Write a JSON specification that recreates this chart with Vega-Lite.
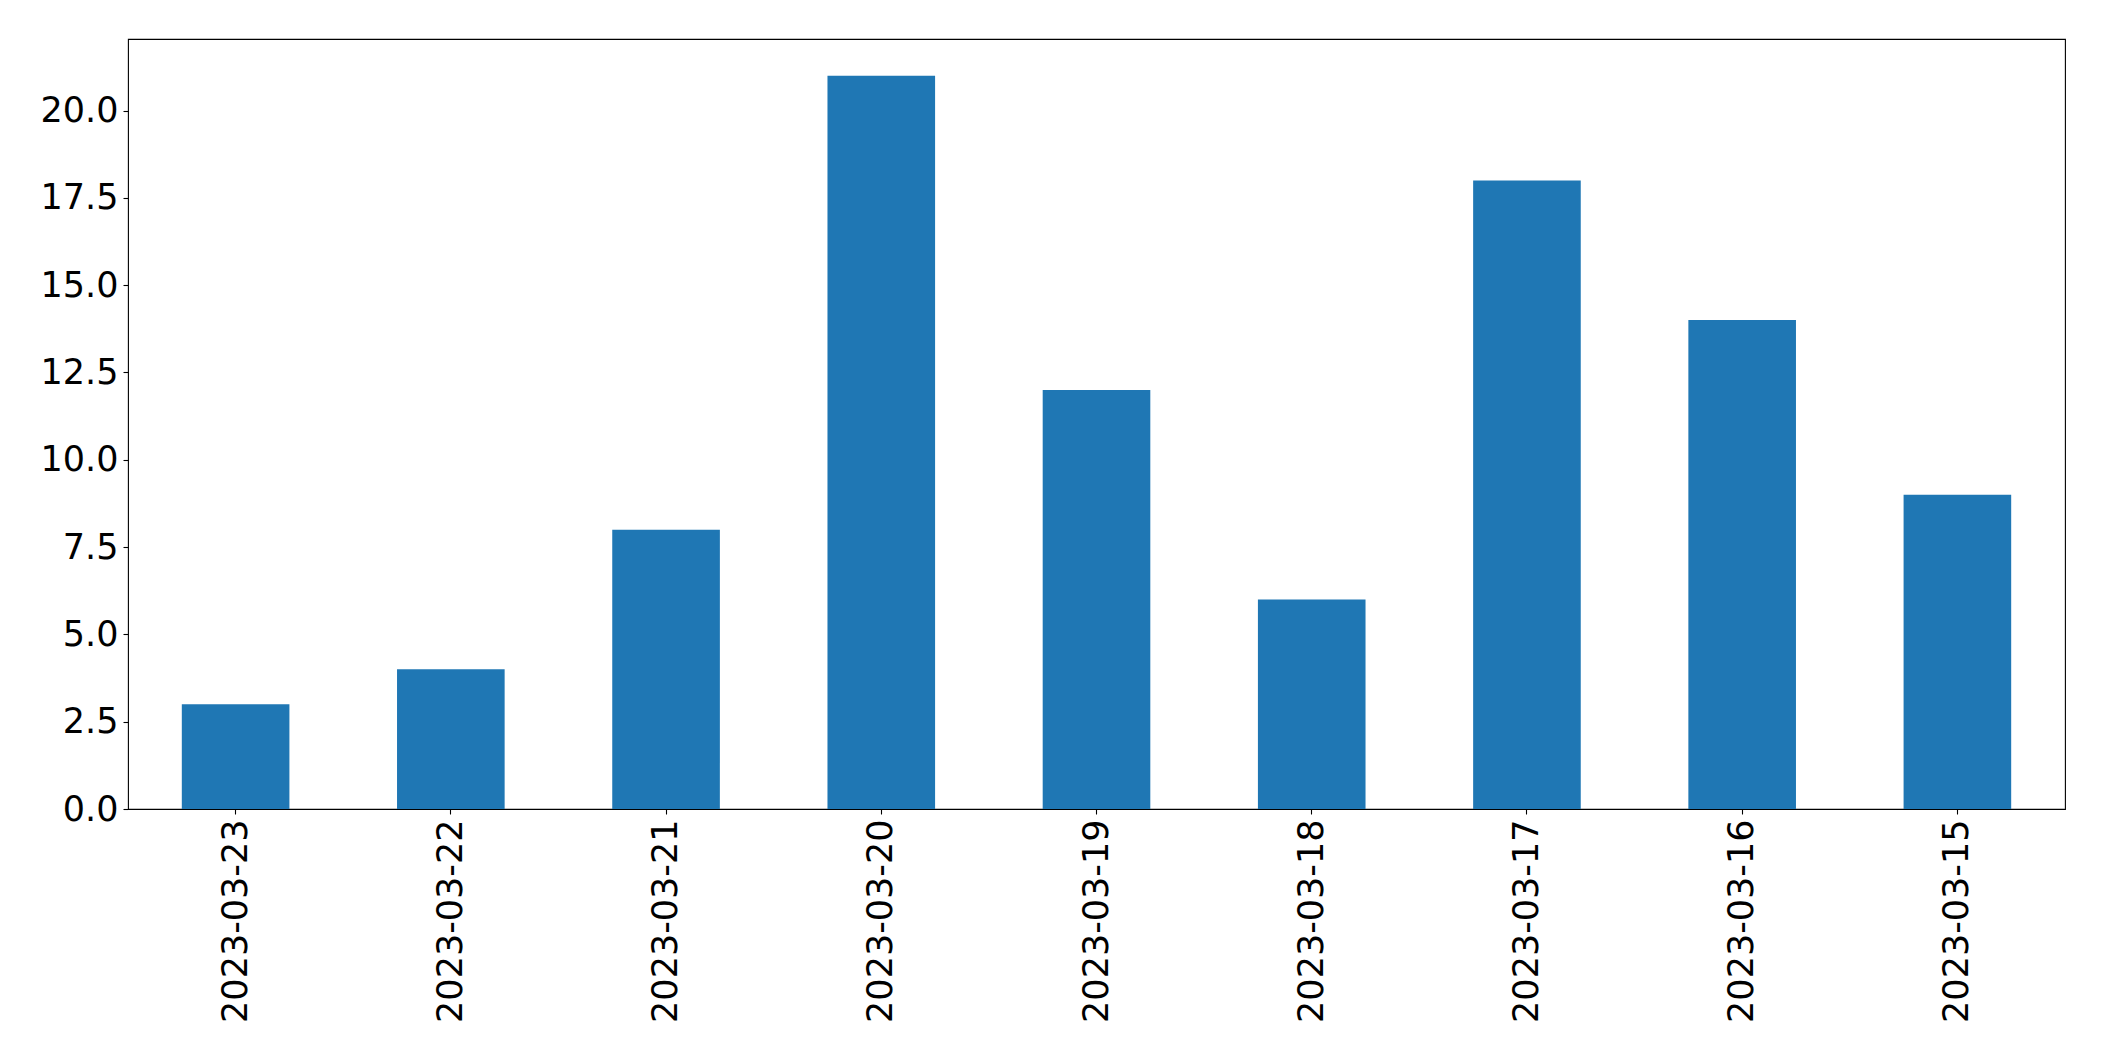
{
  "$schema": "https://vega.github.io/schema/vega-lite/v6.json",
  "width": 1937,
  "height": 770,
  "autosize": "none",
  "padding": {"left": 128, "top": 39, "right": 39, "bottom": 252},
  "background": "white",
  "config": {
    "view": {"stroke": "black", "strokeWidth": 1.1},
    "axis": {
      "labelFont": "DejaVu Sans",
      "labelFontSize": 35,
      "labelColor": "black",
      "labelLimit": 0,
      "labelOverlap": false,
      "tickColor": "black",
      "tickSize": 5,
      "tickWidth": 1.1,
      "labelPadding": 5,
      "domain": false,
      "grid": false,
      "title": null
    }
  },
  "data": {
    "values": [
      {"date": "2023-03-23", "count": 3},
      {"date": "2023-03-22", "count": 4},
      {"date": "2023-03-21", "count": 8},
      {"date": "2023-03-20", "count": 21},
      {"date": "2023-03-19", "count": 12},
      {"date": "2023-03-18", "count": 6},
      {"date": "2023-03-17", "count": 18},
      {"date": "2023-03-16", "count": 14},
      {"date": "2023-03-15", "count": 9}
    ]
  },
  "mark": {"type": "bar", "color": "#1f77b4"},
  "encoding": {
    "x": {
      "field": "date",
      "type": "nominal",
      "sort": null,
      "scale": {"paddingInner": 0.5, "paddingOuter": 0.25},
      "axis": {"labelAngle": -90}
    },
    "y": {
      "field": "count",
      "type": "quantitative",
      "scale": {"domain": [0, 22.05], "nice": false, "zero": true},
      "axis": {"values": [0, 2.5, 5, 7.5, 10, 12.5, 15, 17.5, 20], "format": ".1f"}
    }
  }
}
